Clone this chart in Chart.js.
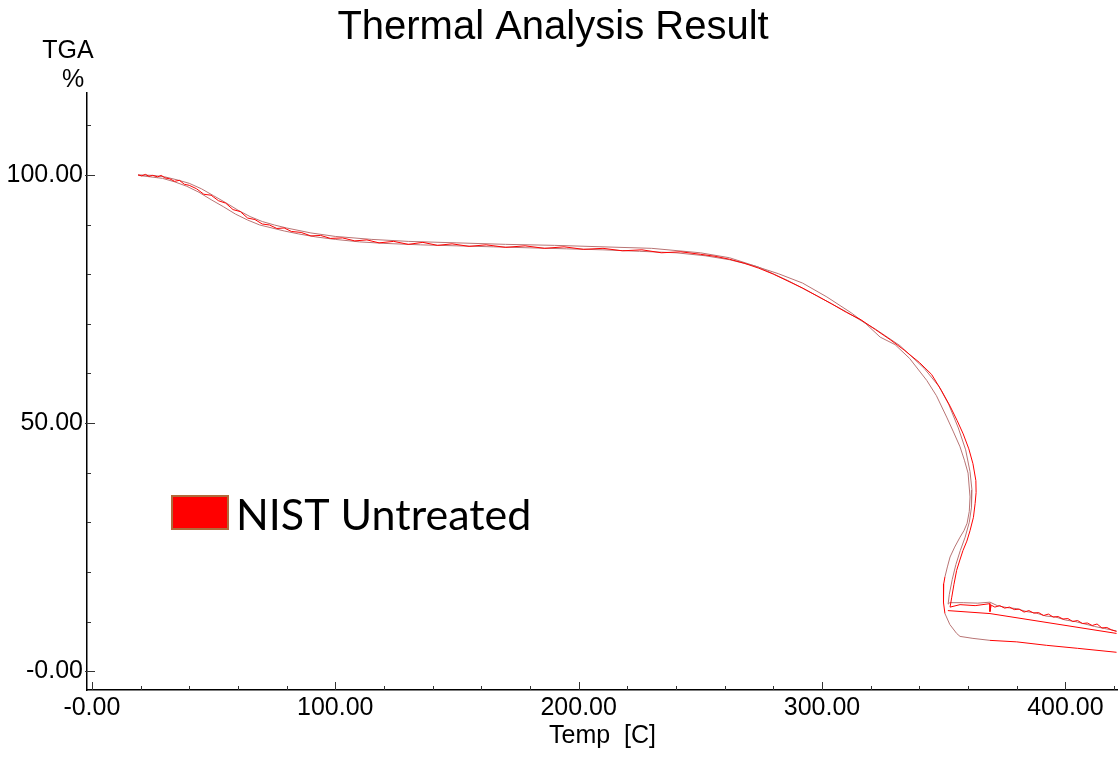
<!DOCTYPE html>
<html>
<head>
<meta charset="utf-8">
<title>Thermal Analysis Result</title>
<script src="https://cdn.jsdelivr.net/npm/chart.js@4.4.1/dist/chart.umd.min.js"></script>
<style>
  html, body { margin: 0; padding: 0; background: #fff; }
  #wrap { width: 1118px; height: 757px; }
</style>
</head>
<body>
<div id="wrap"><canvas id="tga"></canvas></div>
<script>
// run 1 (red, outer loop + noisy tail)
var temps1 = [19, 20.5, 22, 23.5, 25, 27, 28.5, 30, 32, 34, 36, 38, 40, 43, 46, 49, 52, 55, 58, 61,
  64, 67, 70, 73, 76, 79, 82, 86, 90, 94, 98, 103, 108, 113, 118, 124, 130, 136, 142, 148,
  155, 162, 170, 178, 186, 194, 202, 210, 218, 226, 234, 242, 250, 256, 262, 268, 274, 280, 286, 292,
  298, 304, 310, 316, 322, 328, 334, 340, 345, 349, 352.6, 355.5, 358, 360.3, 362, 363.2, 363.3, 362.9, 362.2, 360.8,
  359.5, 357.9, 356.5, 355.3, 354.2, 353.3, 352.6, 356.7, 362.9, 369, 369, 369.5, 371, 373, 375, 377, 379, 381, 383, 385,
  387, 389, 391, 393, 395, 397, 399, 401, 403, 405, 407, 409, 411, 413, 415, 417, 419, 421];
var weights1 = [100.0, 99.8, 100.1, 99.7, 99.9, 99.6, 99.9, 99.4, 99.2, 98.7, 98.9, 98.1, 97.9, 97.2, 96.1, 95.9, 94.8, 94.3, 93.0, 92.6,
  91.3, 91.0, 90.1, 89.9, 89.2, 89.3, 88.6, 88.4, 87.7, 87.8, 87.2, 87.3, 86.7, 86.9, 86.3, 86.6, 86.0, 86.4, 85.8, 86.1,
  85.6, 85.9, 85.4, 85.7, 85.2, 85.5, 85.0, 85.2, 84.7, 84.9, 84.3, 84.5, 84.0, 83.6, 83.0, 82.2, 81.2, 80.0, 78.6, 77.2,
  75.6, 74.0, 72.3, 70.8, 68.8, 66.8, 64.6, 62.2, 59.8, 56.6, 53.4, 50.5, 47.8, 44.8, 41.8, 38.4, 36.0, 33.8, 31.0, 28.3,
  26.2, 24.3, 22.2, 20.3, 17.5, 14.9, 12.9, 13.4, 13.2, 13.6, 12.0, 13.3, 12.9, 13.2, 12.7, 12.9, 12.4, 12.5, 11.9, 12.2,
  11.7, 11.8, 11.2, 11.5, 10.9, 11.0, 10.5, 10.6, 10.0, 10.2, 9.6, 9.7, 9.2, 9.5, 8.7, 8.8, 8.3, 8.0];

// run 1 reference trace (grey)
var temps1g = [19, 25, 30, 35, 40, 45, 50, 55, 60, 65, 70, 75, 80, 90, 100, 115, 130, 150, 170, 190,
  210, 230, 250, 262, 274, 286, 298, 310, 322, 332, 342, 348, 352, 356, 359, 360.8, 361.6, 361.4, 360.5, 358.8,
  356.8, 355, 353.5, 352.3, 351.8, 352.5, 358, 364, 369, 372, 376, 380, 384, 388, 392, 396, 400, 404, 408, 412,
  416, 421];
var weights1g = [100.0, 99.9, 99.6, 99.0, 98.3, 97.2, 95.8, 94.4, 92.9, 91.6, 90.6, 89.9, 89.3, 88.3, 87.6, 87.0, 86.6, 86.3, 86.0, 85.8,
  85.5, 85.2, 84.3, 83.3, 81.4, 78.7, 75.6, 72.4, 68.9, 65.6, 61.0, 57.4, 53.8, 49.0, 44.6, 40.2, 36.5, 33.0, 30.0, 27.0,
  24.3, 21.5, 18.5, 15.5, 13.5, 13.8, 13.8, 13.7, 13.9, 13.2, 12.8, 12.6, 12.0, 11.7, 11.1, 10.9, 10.3, 10.0, 9.5, 9.0,
  8.6, 8.1];

// run 2 (inner loop, ends lowest)
var temps2 = [19, 24, 29, 34, 39, 44, 49, 54, 59, 64, 69, 74, 79, 85, 92, 100, 110, 120, 135, 150,
  165, 180, 195, 210, 225, 240, 252, 262, 272, 282, 292, 302, 312, 318, 323.9, 330, 336, 343, 347, 351.2,
  354, 356.7, 358.5, 360, 360.8, 360.5, 359.6, 358.3, 356.7, 354.5, 352.6, 351.5, 350.5, 350, 349.8, 350, 350.5, 352.5, 355.3, 356.7,
  362, 369, 380, 392.3, 405, 421];
var weights2 = [99.9, 99.6, 99.3, 98.6, 97.7, 96.5, 95.0, 93.6, 92.1, 90.9, 89.9, 89.3, 88.7, 88.1, 87.5, 87.0, 86.5, 86.2, 85.9, 85.7,
  85.5, 85.3, 85.1, 84.9, 84.6, 84.3, 83.7, 82.9, 81.7, 80.1, 78.2, 75.4, 72.2, 70.0, 67.3, 65.8, 63.0, 58.6, 55.5, 51.2,
  48.2, 45.2, 42.5, 39.9, 35.1, 32.2, 29.8, 28.3, 27.0, 25.0, 23.0, 21.0, 19.0, 17.6, 16.3, 13.8, 11.6, 9.4, 7.6, 7.0,
  6.6, 6.2, 5.9, 5.2, 4.6, 3.8];

// straight return segment after the outer loop
var temps3 = [351.7, 369, 421];
var weights3 = [12.2, 11.6, 7.6];

var xMajor = [0, 100, 200, 300, 400];
var xTickLabels = ['-0.00', '100.00', '200.00', '300.00', '400.00'];
var yMajor = [0, 50, 100];
var yTickLabels = ['-0.00', '50.00', '100.00'];

var RED = '#ff0000';
var GREY = '#b87474';
var FONT = "'Liberation Sans', Arial, sans-serif";

function pts(xs, ys) {
  return xs.map(function(t, i) { return { x: t, y: ys[i] }; });
}

// title, axis caption, legend and inward tick marks
const decorations = {
  id: 'decorations',
  afterDraw(chart) {
    const ctx = chart.ctx, a = chart.chartArea;
    const x = chart.scales.x, y = chart.scales.y;
    ctx.save();
    ctx.strokeStyle = '#333';
    ctx.lineWidth = 1;
    ctx.beginPath();
    for (let v = 0; v <= 420; v += 20) {
      const px = Math.round(x.getPixelForValue(v)) + 0.5;
      const len = xMajor.indexOf(v) >= 0 ? 8 : 4;
      ctx.moveTo(px, a.bottom);
      ctx.lineTo(px, a.bottom - len);
    }
    for (let v = 0; v <= 110; v += 10) {
      const py = Math.round(y.getPixelForValue(v)) + 0.5;
      const major = yMajor.indexOf(v) >= 0;
      ctx.moveTo(a.left - (major ? 2 : 0), py);
      ctx.lineTo(a.left + (major ? 8 : 4), py);
    }
    ctx.stroke();

    ctx.fillStyle = '#000';
    ctx.textBaseline = 'alphabetic';
    ctx.textAlign = 'center';
    ctx.font = '40px ' + FONT;
    ctx.fillText('Thermal Analysis Result', 553, 39);

    ctx.font = '25px ' + FONT;
    ctx.fillText('TGA', 68, 58);
    ctx.fillText('%', 73, 87);

    // legend
    ctx.fillStyle = RED;
    ctx.fillRect(172, 496, 56, 33);
    ctx.strokeStyle = '#b06a3a';
    ctx.lineWidth = 2;
    ctx.strokeRect(172, 496, 56, 33);
    ctx.fillStyle = '#000';
    ctx.font = "43px Lato, 'Open Sans', sans-serif";
    ctx.textAlign = 'left';
    ctx.fillText('NIST Untreated', 236, 530);
    ctx.restore();
  }
};

const chart = new Chart(document.getElementById('tga'), {
  type: 'scatter',
  data: {
    datasets: [{
      label: 'Run 1 ref',
      data: pts(temps1g, weights1g),
      borderColor: GREY,
      order: 2
    }, {
      label: 'Run 2',
      data: pts(temps2, weights2),
      borderColor: GREY,
      segment: {
        borderColor: function(c) {
          return (c.p0.parsed.x >= 369 || (c.p0.parsed.y < 20 && c.p0.parsed.y > 12)) ? RED : GREY;
        }
      },
      order: 1
    }, {
      label: 'NIST Untreated',
      data: pts(temps1, weights1),
      borderColor: RED,
      order: 0
    }, {
      label: 'Return',
      data: pts(temps3, weights3),
      borderColor: RED,
      order: 0
    }]
  },
  options: {
    responsive: true,
    maintainAspectRatio: false,
    animation: false,
    showLine: true,
    elements: {
      point: { radius: 0, hoverRadius: 0 },
      line: { borderWidth: 1, tension: 0 }
    },
    layout: { padding: { left: 0, right: 0, top: 93, bottom: 0 } },
    plugins: {
      legend: { display: false },
      tooltip: { enabled: false },
      title: { display: false }
    },
    scales: {
      x: {
        type: 'linear',
        min: -2,
        max: 421.6,
        grid: { display: false, drawTicks: false, tickLength: 0 },
        border: { display: true, color: '#000', width: 1.5 },
        afterBuildTicks: function(s) { s.ticks = xMajor.map(function(v) { return { value: v }; }); },
        afterFit: function(s) { s.height = 67; },
        ticks: {
          color: '#000',
          padding: 3,
          maxRotation: 0,
          autoSkip: false,
          font: { family: FONT, size: 25 },
          callback: function(v) { return xTickLabels[xMajor.indexOf(v)]; }
        },
        title: {
          display: true,
          text: 'Temp  [C]',
          color: '#000',
          font: { family: FONT, size: 25 },
          padding: { top: 0, bottom: 6 }
        }
      },
      y: {
        type: 'linear',
        min: -3.8,
        max: 116.5,
        grid: { display: false, drawTicks: false, tickLength: 0 },
        border: { display: true, color: '#000', width: 1.5 },
        afterBuildTicks: function(s) { s.ticks = yMajor.map(function(v) { return { value: v }; }); },
        afterFit: function(s) { s.width = 87; },
        ticks: {
          color: '#000',
          padding: 4,
          autoSkip: false,
          font: { family: FONT, size: 25 },
          callback: function(v) { return yTickLabels[yMajor.indexOf(v)]; }
        }
      }
    }
  },
  plugins: [decorations]
});
</script>
</body>
</html>
